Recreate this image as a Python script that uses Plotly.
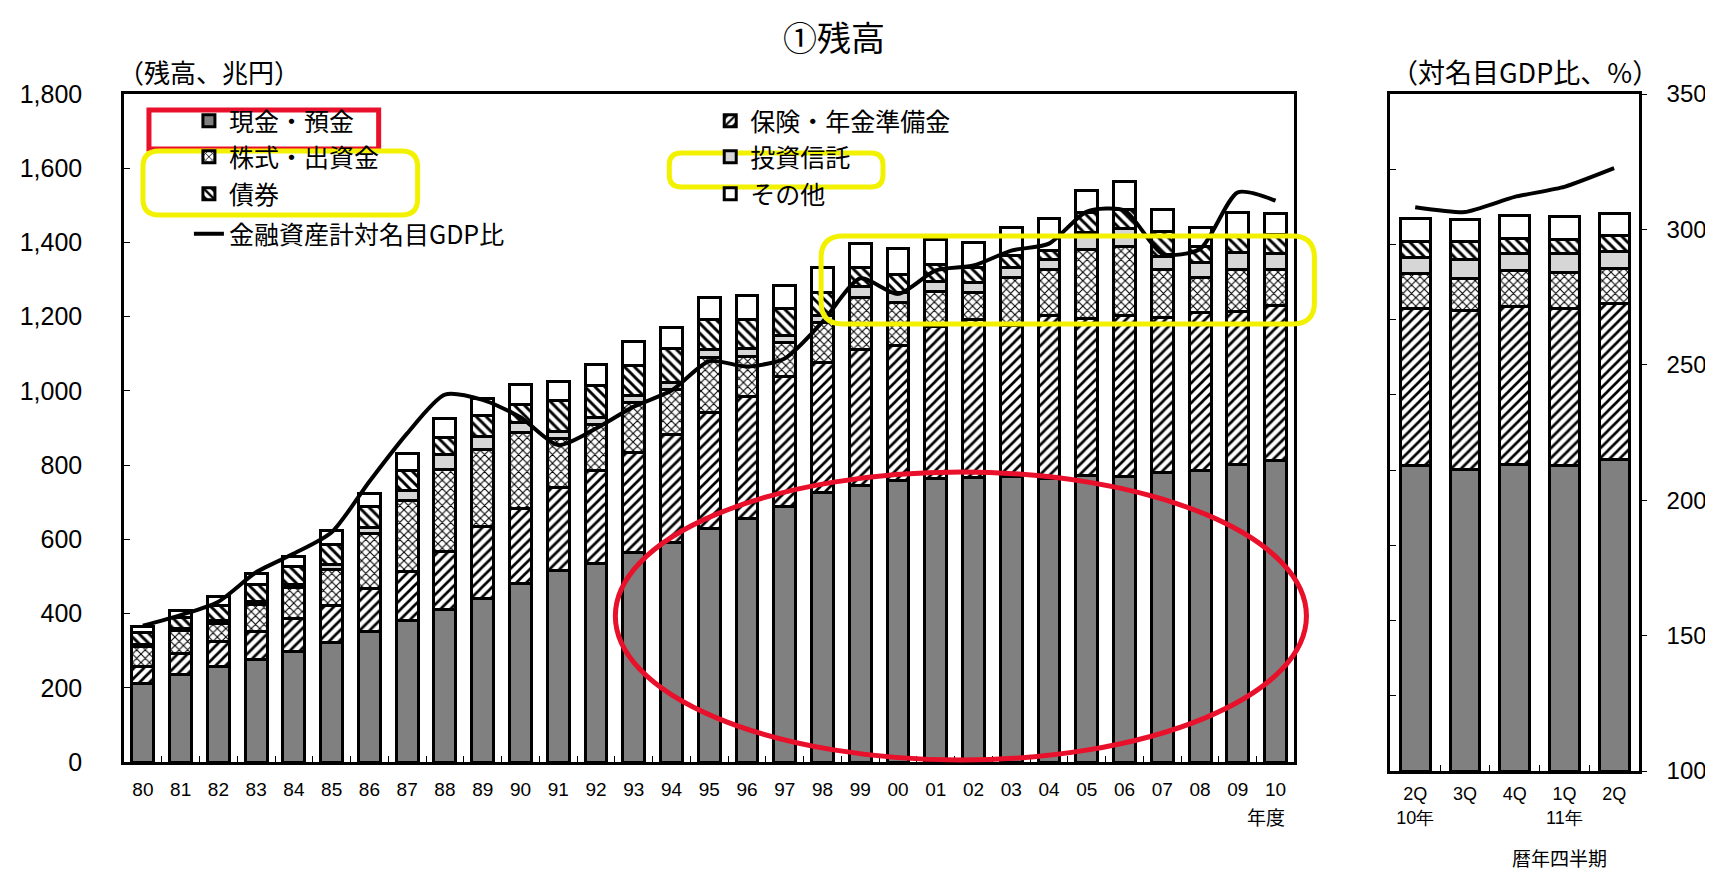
import plotly.graph_objects as go

# ---------------- data ----------------
years = ['80', '81', '82', '83', '84', '85', '86', '87', '88', '89', '90', '91', '92', '93', '94',
         '95', '96', '97', '98', '99', '00', '01', '02', '03', '04', '05', '06', '07', '08', '09', '10']
cash = [212, 236, 257, 275, 298, 321, 352, 380, 410, 441, 480, 516, 534, 565, 592,
        628, 656, 688, 726, 744, 758, 765, 767, 769, 765, 772, 770, 780, 785, 803, 812]
insurance = [45, 57, 68, 77, 89, 102, 116, 134, 157, 193, 202, 224, 251, 269, 291,
             314, 330, 352, 350, 368, 363, 408, 426, 406, 437, 422, 432, 417, 426, 412, 417]
equity = [54, 61, 49, 72, 82, 97, 148, 190, 222, 209, 206, 132, 125, 136, 121,
          148, 108, 90, 108, 139, 117, 96, 71, 130, 125, 187, 188, 130, 94, 112, 98]
trusts = [6, 6, 8, 8, 10, 12, 16, 27, 40, 33, 26, 18, 18, 18, 18,
          22, 20, 18, 18, 29, 26, 27, 29, 27, 27, 47, 47, 36, 42, 45, 42]
bonds = [32, 30, 40, 45, 47, 55, 56, 54, 45, 58, 50, 83, 87, 81, 92,
         81, 79, 73, 64, 52, 50, 45, 39, 32, 23, 52, 53, 67, 43, 45, 52]
other = [17, 17, 24, 32, 27, 38, 36, 46, 51, 46, 52, 51, 56, 63, 56,
         60, 64, 62, 67, 65, 70, 68, 69, 77, 88, 60, 74, 59, 51, 64, 56]
gdp_ratio = [151, 155, 160, 171, 178, 186, 205, 223, 237.5, 235.5, 229, 218.6, 224.8, 233, 239,
             250, 248, 251, 264.7, 281, 275.2, 284, 285.8, 291.4, 294, 306, 306.4, 290.2, 292, 313.2, 310.1]

quarter_ids = ['2010Q2', '2010Q3', '2010Q4', '2011Q1', '2011Q2']
quarter_labels = ['2Q<br>10年', '3Q', '4Q', '1Q<br>11年', '2Q']
q_cash = [811, 802, 815, 811, 828]
q_insurance = [418, 423, 419, 418, 415]
q_equity = [93, 84, 96, 97, 92]
q_trusts = [44, 52, 46, 49, 46]
q_bonds = [41, 46, 40, 37, 42]
q_other = [63, 60, 62, 63, 59]
q_gdp_ratio = [308.2, 306.4, 312, 315.7, 322.6]

series_names = ['現金・預金', '保険・年金準備金', '株式・出資金', '投資信託', '債券', 'その他']
line_name = '金融資産計対名目GDP比'
left_ticks = [0, 200, 400, 600, 800, 1000, 1200, 1400, 1600, 1800]
right_ticks = [100, 150, 200, 250, 300, 350]

# ---------------- styles ----------------
JP = 'Noto Sans CJK JP'
ARIAL = 'Liberation Sans, Arial, sans-serif'
styles = [
    dict(color='#808080'),
    dict(color='white', pattern=dict(shape='/', fgcolor='black', bgcolor='white', size=7, solidity=0.38, fillmode='replace')),
    dict(color='white', pattern=dict(shape='x', fgcolor='black', bgcolor='white', size=6, solidity=0.32, fillmode='replace')),
    dict(color='#d6d6d6'),
    dict(color='white', pattern=dict(shape='\\', fgcolor='black', bgcolor='white', size=7, solidity=0.42, fillmode='replace')),
    dict(color='white'),
]

W, H = 1713, 877
ML, MR, MT, MB = 114, 82, 86, 114
PW, PH = W - ML - MR, H - MT - MB


def px(xp):
    return (xp - ML) / PW


def py(yp):
    return (H - MB - yp) / PH


# legend slot for each series (text start x, row anchor y), in pixels
COL1, COL2 = 228, 750
ROWS = [113, 149, 186, 226]
legend_slots = [(COL1, ROWS[0]), (COL2, ROWS[0]), (COL1, ROWS[1]), (COL2, ROWS[1]),
                (COL1, ROWS[2]), (COL2, ROWS[2]), (COL1, ROWS[3])]
legend_ids = ['legend', 'legend2', 'legend3', 'legend4', 'legend5', 'legend6', 'legend7']

fig = go.Figure()
left_vals = [cash, insurance, equity, trusts, bonds, other]
right_vals = [q_cash, q_insurance, q_equity, q_trusts, q_bonds, q_other]
for i, (name, st, lv) in enumerate(zip(series_names, styles, left_vals)):
    fig.add_trace(go.Bar(x=years, y=lv, name=name, width=0.58, legend=legend_ids[i],
                         marker=dict(**st, line=dict(color='black', width=3)),
                         xaxis='x', yaxis='y'))
fig.add_trace(go.Scatter(x=years, y=gdp_ratio, name=line_name, mode='lines', legend=legend_ids[6],
                         line=dict(color='black', width=4, shape='spline', smoothing=0.7),
                         xaxis='x', yaxis='y2'))
for name, st, rv in zip(series_names, styles, right_vals):
    fig.add_trace(go.Bar(x=quarter_ids, y=rv, name=name, width=0.6, showlegend=False,
                         marker=dict(**st, line=dict(color='black', width=3)),
                         xaxis='x2', yaxis='y3'))
fig.add_trace(go.Scatter(x=quarter_ids, y=q_gdp_ratio, name=line_name, mode='lines', showlegend=False,
                         line=dict(color='black', width=4, shape='spline', smoothing=0.5),
                         xaxis='x2', yaxis='y4'))

axis_common = dict(showline=True, linecolor='black', linewidth=2.5, showgrid=False, zeroline=False)
layout = dict(
    width=W, height=H,
    margin=dict(l=ML, r=MR, t=MT, b=MB),
    paper_bgcolor='white', plot_bgcolor='white',
    barmode='stack',
    font=dict(family=JP, color='black', size=18),
    xaxis=dict(domain=[0, px(1286)], anchor='y', type='category', ticks='inside', tickson='boundaries',
               ticklen=6, tickcolor='black', mirror=True, ticklabelstandoff=8,
               tickfont=dict(family=ARIAL, size=19), **axis_common),
    yaxis=dict(domain=[py(754), 1], range=[0, 1800], tickvals=left_ticks, tickformat=',',
               ticks='inside', ticklen=6, tickcolor='black', mirror=True, ticklabelstandoff=34,
               tickfont=dict(family=ARIAL, size=25), **axis_common),
    yaxis2=dict(overlaying='y', range=[100, 350], visible=False),
    xaxis2=dict(domain=[px(1382), 1], anchor='y3', type='category', ticks='inside', tickson='boundaries',
                ticklen=6, tickcolor='black', mirror=True, ticklabelstandoff=5,
                tickvals=quarter_ids, ticktext=quarter_labels,
                tickfont=dict(family=ARIAL, size=18), **axis_common),
    yaxis3=dict(domain=[0, 1], anchor='x2', range=[0, 1800], tickvals=left_ticks, showticklabels=False,
                ticks='inside', ticklen=6, tickcolor='black', mirror=True, **axis_common),
    yaxis4=dict(overlaying='y3', anchor='x2', side='right', range=[100, 350], tickvals=right_ticks,
                ticks='outside', ticklen=5, tickcolor='black', ticklabelstandoff=15,
                tickfont=dict(family=ARIAL, size=24), **axis_common),
    showlegend=True,
)
for lid, (tx, ty) in zip(legend_ids, legend_slots):
    layout[lid] = dict(x=px(tx - 49), y=py(ty), xanchor='left', yanchor='middle',
                       itemwidth=30, bgcolor='rgba(255,255,255,0)',
                       font=dict(family=JP, size=25))
fig.update_layout(**layout)

annots = [
    dict(text='①残高', x=825, y=28, size=34),
    dict(text='（残高、兆円）', x=199, y=63, size=26),
    dict(text='（対名目GDP比、%）', x=1517, y=63, size=27),
    dict(text='年度', x=1258, y=808, size=19),
    dict(text='暦年四半期', x=1551, y=850, size=19),
]
for a in annots:
    fig.add_annotation(text=a['text'], x=px(a['x']), y=py(a['y']), xref='paper', yref='paper',
                       showarrow=False, xanchor='center', yanchor='middle',
                       font=dict(family=JP, size=a['size'], color='black'))


def rounded(x0, y0, x1, y1, r):
    X0, X1, Y0, Y1, = px(x0), px(x1), py(y1), py(y0)
    rx, ry = r / PW, r / PH
    return (f'M {X0+rx},{Y0} L {X1-rx},{Y0} Q {X1},{Y0} {X1},{Y0+ry} L {X1},{Y1-ry} '
            f'Q {X1},{Y1} {X1-rx},{Y1} L {X0+rx},{Y1} Q {X0},{Y1} {X0},{Y1-ry} '
            f'L {X0},{Y0+ry} Q {X0},{Y0} {X0+rx},{Y0} Z')


RED = '#e8102a'
YEL = '#f2f200'
fig.add_shape(type='rect', xref='paper', yref='paper', x0=px(139), x1=px(369), y0=py(141), y1=py(102),
              line=dict(color=RED, width=5))
fig.add_shape(type='path', xref='paper', yref='paper', path=rounded(133, 143, 408, 207, 16),
              line=dict(color=YEL, width=5))
fig.add_shape(type='path', xref='paper', yref='paper', path=rounded(660, 145, 874, 179, 12),
              line=dict(color=YEL, width=5))
fig.add_shape(type='path', xref='paper', yref='paper', path=rounded(812, 228, 1306, 316, 22),
              line=dict(color=YEL, width=5))
fig.add_shape(type='circle', xref='paper', yref='paper', x0=px(606), x1=px(1298), y0=py(752), y1=py(464),
              line=dict(color=RED, width=5))

fig.write_html('out.html')
